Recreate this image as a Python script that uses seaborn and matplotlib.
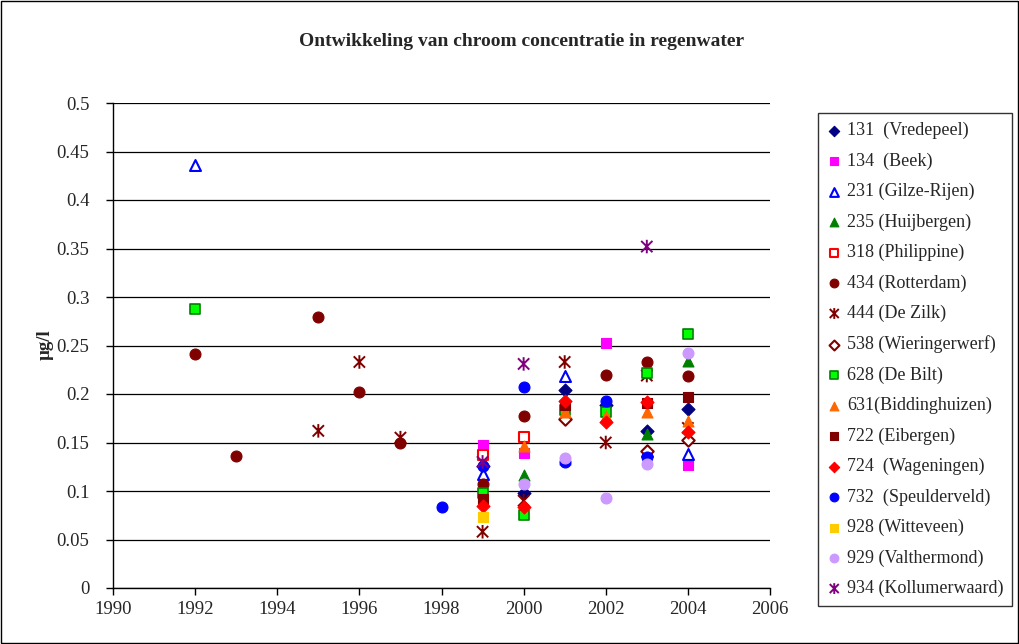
import numpy as np
import pandas as pd
import matplotlib
matplotlib.use("Agg")
import matplotlib.pyplot as plt
import seaborn as sns
from matplotlib.path import Path
from matplotlib.patches import Rectangle

# ---------------- data ----------------
title = "Ontwikkeling van chroom concentratie in regenwater"
ylabel = "µg/l"
x_ticks = [1990, 1992, 1994, 1996, 1998, 2000, 2002, 2004, 2006]
y_ticks = [0, 0.05, 0.1, 0.15, 0.2, 0.25, 0.3, 0.35, 0.4, 0.45, 0.5]

s131_years = [1999, 2000, 2001, 2002, 2003, 2004]
s131_vals = [0.126, 0.098, 0.204, 0.189, 0.162, 0.185]
s134_years = [1999, 2000, 2002, 2004]
s134_vals = [0.147, 0.139, 0.253, 0.127]
s231_years = [1992, 1999, 2001, 2003, 2004]
s231_vals = [0.436, 0.118, 0.219, 0.141, 0.138]
s235_years = [1999, 2000, 2001, 2003, 2004]
s235_vals = [0.131, 0.116, 0.133, 0.159, 0.234]
s318_years = [1999, 2000]
s318_vals = [0.137, 0.156]
s434_years = [1992, 1993, 1995, 1996, 1997, 1999, 2000, 2002, 2003, 2004]
s434_vals = [0.241, 0.136, 0.279, 0.202, 0.150, 0.107, 0.177, 0.220, 0.233, 0.219]
s444_years = [1995, 1996, 1997, 1999, 2000, 2001, 2002, 2003, 2004]
s444_vals = [0.162, 0.233, 0.155, 0.058, 0.090, 0.233, 0.150, 0.219, 0.165]
s538_years = [2001, 2003, 2004]
s538_vals = [0.174, 0.141, 0.153]
s628_years = [1992, 1999, 2000, 2001, 2002, 2003, 2004]
s628_vals = [0.288, 0.098, 0.075, 0.184, 0.181, 0.222, 0.262]
s631_years = [2000, 2001, 2002, 2003, 2004]
s631_vals = [0.146, 0.181, 0.177, 0.181, 0.172]
s722_years = [1999, 2001, 2003, 2004]
s722_vals = [0.092, 0.189, 0.191, 0.197]
s724_years = [1999, 2000, 2001, 2002, 2003, 2004]
s724_vals = [0.085, 0.084, 0.193, 0.171, 0.192, 0.161]
s732_years = [1998, 1999, 2000, 2001, 2002, 2003]
s732_vals = [0.083, 0.126, 0.207, 0.130, 0.193, 0.135]
s928_years = [1999]
s928_vals = [0.073]
s929_years = [2000, 2001, 2002, 2003, 2004]
s929_vals = [0.107, 0.134, 0.093, 0.128, 0.242]
s934_years = [1999, 2000, 2003]
s934_vals = [0.130, 0.231, 0.352]

labels = ["131  (Vredepeel)", "134  (Beek)", "231 (Gilze-Rijen)", "235 (Huijbergen)",
          "318 (Philippine)", "434 (Rotterdam)", "444 (De Zilk)", "538 (Wieringerwerf)",
          "628 (De Bilt)", "631(Biddinghuizen)", "722 (Eibergen)", "724  (Wageningen)",
          "732  (Speulderveld)", "928 (Witteveen)", "929 (Valthermond)", "934 (Kollumerwaard)"]

# ---------------- styles ----------------
star = Path([(-1, -1), (1, 1), (-1, 1), (1, -1), (0, -1.2), (0, 1.2)],
            [Path.MOVETO, Path.LINETO, Path.MOVETO, Path.LINETO, Path.MOVETO, Path.LINETO])

# (marker, facecolor, edgecolor, size, linewidth)
styles = [
    ("D", "#000080", "#000080", 44, 0.8),
    ("s", "#FF00FF", "#FF00FF", 58, 0.8),
    ("^", "white", "#0000FF", 62, 1.5),
    ("^", "#008000", "#008000", 62, 0.8),
    ("s", "white", "#FF0000", 55, 1.5),
    ("o", "#800000", "#800000", 62, 0.8),
    (star, "none", "#800000", 95, 1.4),
    ("D", "white", "#800000", 40, 1.5),
    ("s", "#00FF00", "#008000", 55, 1.2),
    ("^", "#FF6600", "#FF6600", 62, 0.8),
    ("s", "#800000", "#800000", 58, 0.8),
    ("D", "#FF0000", "#FF0000", 44, 0.8),
    ("o", "#0000FF", "#0000FF", 62, 0.8),
    ("s", "#FFCC00", "#FFCC00", 58, 0.8),
    ("o", "#CC99FF", "#CC99FF", 62, 0.8),
    (star, "none", "#800080", 95, 1.4),
]

series = [
    (s131_years, s131_vals), (s134_years, s134_vals), (s231_years, s231_vals),
    (s235_years, s235_vals), (s318_years, s318_vals), (s434_years, s434_vals),
    (s444_years, s444_vals), (s538_years, s538_vals), (s628_years, s628_vals),
    (s631_years, s631_vals), (s722_years, s722_vals), (s724_years, s724_vals),
    (s732_years, s732_vals), (s928_years, s928_vals), (s929_years, s929_vals),
    (s934_years, s934_vals),
]

# ---------------- plot ----------------
sns.set_style("white")
plt.rcParams["font.family"] = ["Liberation Serif", "DejaVu Serif"]

fig = plt.figure(figsize=(10.2, 6.44), dpi=100)
ax = fig.add_axes([113 / 1020, 1 - 588 / 644, 657 / 1020, 485 / 644])

for (yrs, vals), lab, (mk, fc, ec, sz, lw) in zip(series, labels, styles):
    sns.scatterplot(x=yrs, y=vals, ax=ax, marker=mk, s=sz, color=ec,
                    facecolor=fc, edgecolor=ec, linewidth=lw, label=lab,
                    zorder=3, legend=False)

ax.set_xlim(1990, 2006)
ax.set_ylim(0, 0.5)
ax.set_xticks(x_ticks)
ax.set_yticks(y_ticks)
ax.set_xticklabels([str(v) for v in x_ticks], fontsize=13.5)
ax.set_yticklabels([f"{v:g}" for v in y_ticks], fontsize=13.5)
ax.yaxis.grid(True, color="black", linewidth=0.9)
ax.xaxis.grid(False)
ax.set_axisbelow(True)
for side in ["top", "right"]:
    ax.spines[side].set_visible(False)
for side in ["left", "bottom"]:
    ax.spines[side].set_color("black")
    ax.spines[side].set_linewidth(1.0)
ax.tick_params(axis="both", direction="out", length=5, width=1, color="black",
               left=True, bottom=True)
ax.tick_params(axis="y", pad=12)
ax.tick_params(axis="x", pad=4)
ax.set_xlabel("")
ax.set_ylabel("")

fig.text(0.511, 1 - 41 / 644, title, ha="center", va="center",
         fontsize=14, fontweight="bold")
fig.text(45 / 1020, 1 - 345 / 644, ylabel, ha="center", va="center",
         rotation=90, fontsize=13.5, fontweight="bold")

handles, labs = ax.get_legend_handles_labels()
leg = fig.legend(handles, labs, loc="upper left",
                 bbox_to_anchor=(818 / 1020, 1 - 113 / 644),
                 frameon=True, fancybox=False, edgecolor="black",
                 fontsize=13, labelspacing=0.73, handlelength=0.8,
                 handletextpad=0.3, borderpad=0.5, markerscale=0.8,
                 borderaxespad=0)
leg.get_frame().set_linewidth(1.0)

fig.patches.append(Rectangle((0.001, 0.001), 0.997, 0.997, transform=fig.transFigure,
                             fill=False, edgecolor="black", linewidth=1))

fig.savefig("out.png", dpi=100, facecolor="white")
